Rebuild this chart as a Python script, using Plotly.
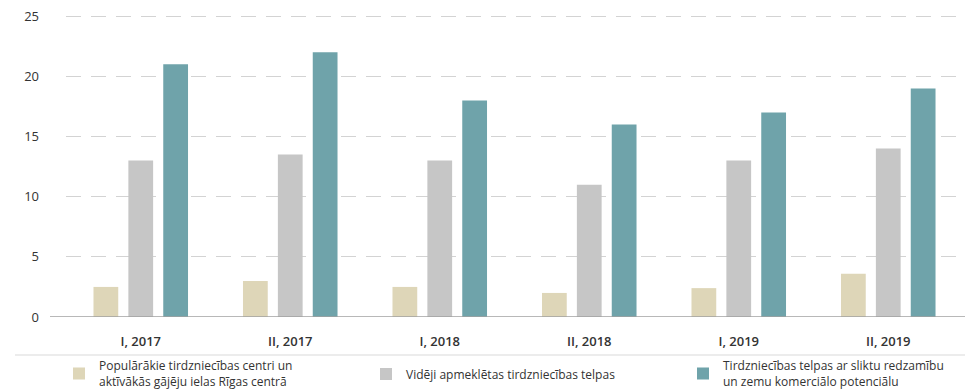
import plotly.graph_objects as go

categories = ["I, 2017", "II, 2017", "I, 2018", "II, 2018", "I, 2019", "II, 2019"]
series_names = [
    "Populārākie tirdzniecības centri un<br>aktīvākās gājēju ielas Rīgas centrā",
    "Vidēji apmeklētas tirdzniecības telpas",
    "Tirdzniecības telpas ar sliktu redzamību<br>un zemu komerciālo potenciālu",
]
popular = [2.5, 3.0, 2.5, 2.0, 2.4, 3.6]
average = [13.0, 13.5, 13.0, 11.0, 13.0, 14.0]
poor = [21.0, 22.0, 18.0, 16.0, 17.0, 19.0]
y_ticks = [0, 5, 10, 15, 20, 25]

colors = ["#ded6b8", "#c6c6c6", "#6fa3aa"]
legend_ids = ["legend", "legend2", "legend3"]

fig = go.Figure()
for name, vals, col, lg in zip(series_names, [popular, average, poor], colors, legend_ids):
    fig.add_trace(go.Bar(x=categories, y=vals, name=name, legend=lg, showlegend=True,
                         marker=dict(color=col, line=dict(width=0))))

# page body has an 8px margin: the figure is sized so it fits the 973x390 window
OFF = 8
W, H = 973 - OFF, 390 - OFF
L, R, T, B = 58, 10, 7, 73
pw = W - L - R
ph = H - T - B

def px_x(x):  # screen x -> paper
    return (x - OFF - L) / pw

def px_y(y):  # screen y -> paper
    return (H - B - (y - OFF)) / ph

legend_font = dict(size=12, color="#333333")
def legend_at(x_screen):
    return dict(orientation="h", x=px_x(x_screen), xanchor="left", y=px_y(374), yanchor="middle",
                font=legend_font, itemclick=False, itemdoubleclick=False,
                bgcolor="rgba(0,0,0,0)", borderwidth=0)

fig.update_layout(
    width=W, height=H, showlegend=True,
    margin=dict(l=L, r=R, t=T, b=B, autoexpand=False),
    paper_bgcolor="white", plot_bgcolor="white",
    barmode="group", bargap=0.3, bargroupgap=0.29,
    font=dict(family="Open Sans", size=12, color="#333333"),
    xaxis=dict(showgrid=False, showline=False, zeroline=False, ticks="",
               tickfont=dict(size=13, color="#333333", weight=600),
               ticklabelstandoff=15),
    yaxis=dict(range=[0, 25.1], tickvals=y_ticks, showgrid=True, gridcolor="#d3d3d3",
               griddash="15px,10px", gridwidth=1, zeroline=False, showline=False,
               tickfont=dict(size=13, color="#333333"), ticklabelstandoff=26,
               ticklabeloverflow="allow"),
    legend=legend_at(59),
    legend2=legend_at(366),
    legend3=legend_at(683),
    shapes=[
        dict(type="line", xref="paper", yref="y", x0=px_x(50), x1=px_x(973), y0=0, y1=0,
             line=dict(color="#a0a0a0", width=1.5)),
        dict(type="line", xref="paper", yref="paper", x0=px_x(15), x1=px_x(973),
             y0=px_y(355), y1=px_y(355), line=dict(color="#d9d9d9", width=1)),
    ],
)

fig.write_html("out.html")
